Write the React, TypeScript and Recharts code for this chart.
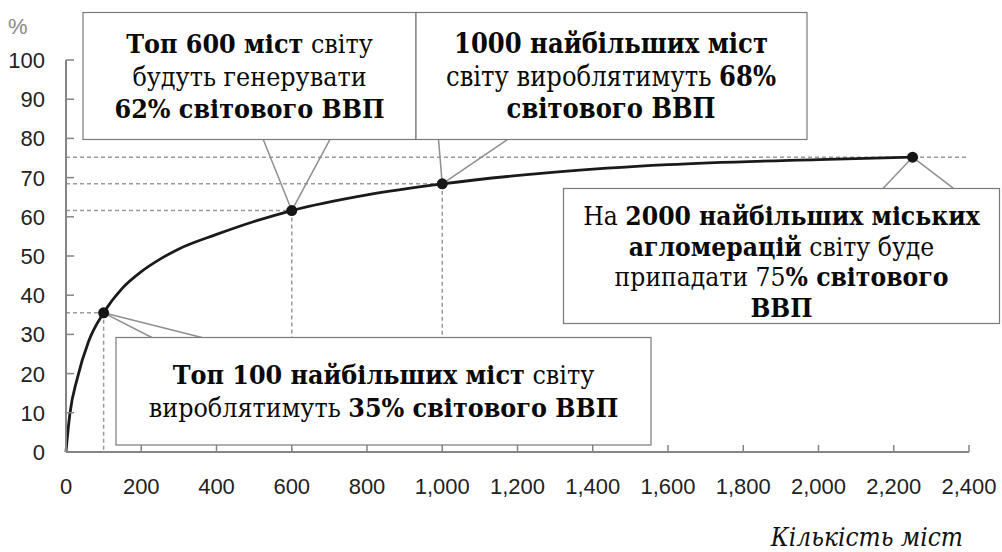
import React from 'react';
import { ComposedChart, Line, XAxis, YAxis, ReferenceLine, ReferenceDot } from 'recharts';

// Curve: share of world GDP (%) by number of largest cities
const cityCounts = [0, 3, 10, 30, 60, 100, 150, 200, 250, 300, 400, 500, 600, 800, 1000, 1300, 1600, 2000, 2250];
const gdpShare = [0, 3.2, 9.5, 18.8, 28.2, 35.5, 41.8, 46.0, 49.2, 51.8, 55.5, 58.8, 61.6, 65.6, 68.4, 71.4, 73.3, 74.6, 75.2];

// Highlighted points
const keyCities = [100, 600, 1000, 2250];
const keyShares = [35.5, 61.6, 68.4, 75.2];
// how far the horizontal guide runs (x value) for each highlighted point
const guideEnds = [100, 600, 1000, 2400];
const verticalGuide = [true, true, true, false];

// leader line ends (data coords) for each highlighted point
const leaderEnds: [number, number][][] = [
  [[228, 29.2], [361, 29.2]],
  [[524, 79.8], [702, 79.8]],
  [[990, 79.8], [1175, 79.8]],
  [[2172, 67.3], [2358, 67.3]],
];

const xTicks = [0, 200, 400, 600, 800, 1000, 1200, 1400, 1600, 1800, 2000, 2200, 2400];
const yTicks = [0, 10, 20, 30, 40, 50, 60, 70, 80, 90, 100];

const xTitle = 'Кількість міст';
const yUnit = '%';

type Seg = { t: string; b?: boolean };
type Box = { x: number; y: number; w: number; h: number; cx: number; size: number; lines: { y: number; segs: Seg[] }[] };

const boxes: Box[] = [
  {
    x: 83, y: 12.5, w: 333, h: 127, cx: 249.5, size: 26.6,
    lines: [
      { y: 53, segs: [{ t: 'Топ 600 міст', b: true }, { t: ' світу' }] },
      { y: 85.5, segs: [{ t: 'будуть генерувати' }] },
      { y: 118, segs: [{ t: '62% світового ВВП', b: true }] },
    ],
  },
  {
    x: 416, y: 12.5, w: 391, h: 127, cx: 611, size: 27,
    lines: [
      { y: 53, segs: [{ t: '1000 найбільших міст', b: true }] },
      { y: 85.5, segs: [{ t: 'світу вироблятимуть ' }, { t: '68%', b: true }] },
      { y: 118, segs: [{ t: 'світового ВВП', b: true }] },
    ],
  },
  {
    x: 563.5, y: 188.5, w: 436, h: 135, cx: 781.5, size: 26.2,
    lines: [
      { y: 225, segs: [{ t: 'На ' }, { t: '2000 найбільших міських', b: true }] },
      { y: 255.5, segs: [{ t: 'агломерацій', b: true }, { t: ' світу буде' }] },
      { y: 286, segs: [{ t: 'припадати 75' }, { t: '% світового', b: true }] },
      { y: 316.5, segs: [{ t: 'ВВП', b: true }] },
    ],
  },
  {
    x: 116, y: 337.5, w: 535, h: 107.5, cx: 383.5, size: 26.6,
    lines: [
      { y: 383.5, segs: [{ t: 'Топ 100 найбільших міст', b: true }, { t: ' світу' }] },
      { y: 417, segs: [{ t: 'вироблятимуть ' }, { t: '35% світового ВВП', b: true }] },
    ],
  },
];

const curve = cityCounts.map((c, i) => ({ x: c, y: gdpShare[i] }));

const AXIS = '#858585';
const GUIDE = '#9a9a9a';
const SANS = 'Liberation Sans, Arial, sans-serif';
const SERIF = 'DejaVu Serif Condensed, DejaVu Serif, serif';

const YTick = (props: any) => {
  const { x, y, payload } = props;
  return (
    <g>
      <line x1={x} x2={x + 8} y1={y} y2={y} stroke={AXIS} strokeWidth={1.5} />
      <text x={x - 21} y={y} dy="0.36em" textAnchor="end" style={{ fontFamily: SANS, fontSize: 22 }} fill="#222">
        {payload.value}
      </text>
    </g>
  );
};

const XTick = (props: any) => {
  const { x, y, payload } = props;
  return (
    <g>
      <line x1={x} x2={x} y1={y} y2={y - 7} stroke={AXIS} strokeWidth={1.5} />
      <text x={x} y={y + 34} dy="0.36em" textAnchor="middle" style={{ fontFamily: SANS, fontSize: 22 }} fill="#222">
        {payload.value.toLocaleString('en-US')}
      </text>
    </g>
  );
};

export default function App() {
  return (
    <div style={{ position: 'absolute', left: 0, top: 0, width: 1002, height: 552, background: '#fff' }}>
      <div style={{ position: 'absolute', left: 0, top: 0 }}>
        <ComposedChart width={1002} height={552} data={curve} margin={{ top: 60, right: 33, bottom: 60, left: 0 }}>
          <XAxis
            type="number"
            dataKey="x"
            domain={[0, 2400]}
            ticks={xTicks}
            interval={0}
            height={40}
            tickSize={0}
            tickMargin={0}
            tickLine={false}
            tick={<XTick />}
            axisLine={{ stroke: AXIS, strokeWidth: 2 }}
          />
          <YAxis
            type="number"
            dataKey="y"
            domain={[0, 100]}
            ticks={yTicks}
            interval={0}
            width={66}
            tickSize={0}
            tickMargin={0}
            tickLine={false}
            tick={<YTick />}
            axisLine={{ stroke: AXIS, strokeWidth: 2 }}
          />
          {keyCities.map((c, i) => (
            <ReferenceLine
              key={'h' + i}
              segment={[{ x: 0, y: keyShares[i] }, { x: guideEnds[i], y: keyShares[i] }]}
              stroke={GUIDE}
              strokeWidth={1.5}
              strokeDasharray="4 3"
            />
          ))}
          {keyCities.map((c, i) =>
            verticalGuide[i] ? (
              <ReferenceLine
                key={'v' + i}
                segment={[{ x: c, y: keyShares[i] }, { x: c, y: 0 }]}
                stroke={GUIDE}
                strokeWidth={1.5}
                strokeDasharray="4 3"
              />
            ) : null
          )}
          {keyCities.map((c, i) =>
            leaderEnds[i].map((e, j) => (
              <ReferenceLine
                key={'l' + i + '-' + j}
                segment={[{ x: c, y: keyShares[i] }, { x: e[0], y: e[1] }]}
                stroke="#8f8f8f"
                strokeWidth={1.5}
              />
            ))
          )}
          <Line
            type="monotone"
            dataKey="y"
            stroke="#1a1a1a"
            strokeWidth={2.8}
            dot={false}
            activeDot={false}
            isAnimationActive={false}
          />
          {keyCities.map((c, i) => (
            <ReferenceDot key={'d' + i} x={c} y={keyShares[i]} r={5.5} fill="#161616" stroke="none" />
          ))}
        </ComposedChart>
      </div>
      <svg
        width={1002}
        height={552}
        style={{ position: 'absolute', left: 0, top: 0, pointerEvents: 'none' }}
      >
        <text x={8} y={26} dy="0.36em" style={{ fontFamily: SANS, fontSize: 22 }} fill="#8a8a8a">
          {yUnit}
        </text>
        <text x={963} y={546} textAnchor="end" style={{ fontFamily: SERIF, fontStyle: 'italic', fontSize: 26 }} fill="#111">
          {xTitle}
        </text>
        {boxes.map((bx, i) => (
          <g key={i}>
            <rect x={bx.x} y={bx.y} width={bx.w} height={bx.h} fill="#fff" stroke="#7a7a7a" strokeWidth={1.2} />
            {bx.lines.map((ln, k) => (
              <text
                key={k}
                x={bx.cx}
                y={ln.y}
                textAnchor="middle"
                style={{ fontFamily: SERIF, fontSize: bx.size }}
                fill="#0a0a0a"
              >
                {ln.segs.map((s, m) => (
                  <tspan key={m} style={{ fontWeight: s.b ? 700 : 400 }}>
                    {s.t}
                  </tspan>
                ))}
              </text>
            ))}
          </g>
        ))}
      </svg>
    </div>
  );
}
